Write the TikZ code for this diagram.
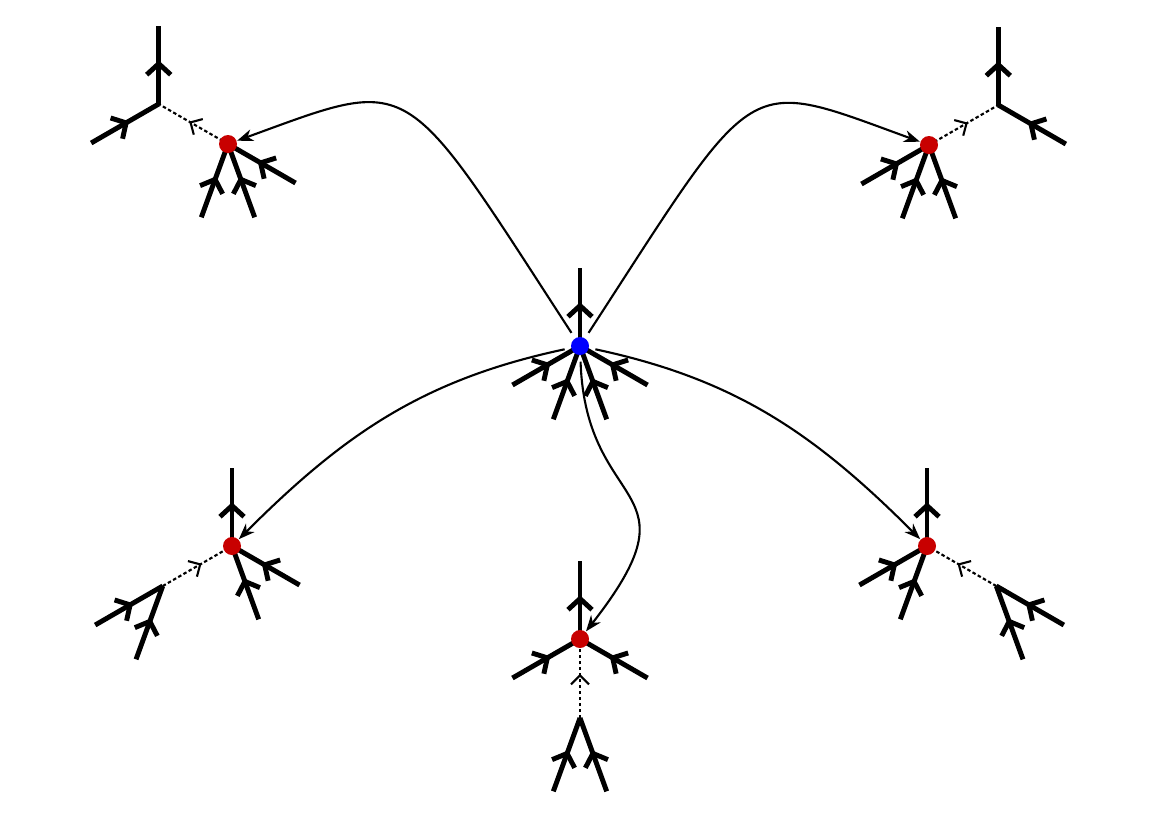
\documentclass[tikz,border=0pt]{standalone}
\usepackage{tikz}
\usetikzlibrary{arrows.meta}
\usetikzlibrary{decorations.markings}
\usepackage{xcolor}
\definecolor{vred}{RGB}{200,0,0}

\begin{document}
\begin{tikzpicture}[
  leg/.style={line width=1.4pt,decoration={markings,mark=at position 0.56 with {\arrow{Straight Barb[length=1.1mm,width=2.4mm]}}},postaction=decorate},
  ghost/.style={line width=0.6pt,dash pattern=on 1pt off 0.7pt,decoration={markings,mark=at position 0.56 with {\arrow{Straight Barb[length=0.9mm,width=1.8mm]}}},postaction=decorate},
  dot/.style={circle,inner sep=0pt,minimum size=1.8mm},
  flow/.style={line width=0.6pt,-{Stealth[length=1.6mm,width=1.2mm,inset=0.5mm]},shorten <=0.6mm}]

\useasboundingbox (0,0) rectangle (11.70,-8.27);

% vertices and their partners
\coordinate (p0) at (5.80,-3.46);
\coordinate (p1) at (2.28,-1.44);
\coordinate (p2) at (9.29,-1.45);
\coordinate (p3) at (2.32,-5.46);
\coordinate (p4) at (5.80,-6.39);
\coordinate (p5) at (9.27,-5.46);
\path (p1) ++(150:0.80) coordinate (q1);
\path (p2) ++(30:0.80) coordinate (q2);
\path (p3) ++(210:0.80) coordinate (q3);
\path (p4) ++(270:0.79) coordinate (q4);
\path (p5) ++(330:0.80) coordinate (q5);

% incoming legs
\foreach \v/\a in {p0/210,p0/250,p0/290,p0/330,p1/250,p1/290,p1/330,q1/210,
  p2/210,p2/250,p2/290,q2/330,p3/290,p3/330,q3/210,q3/250,
  p4/210,p4/330,q4/250,q4/290,p5/210,p5/250,q5/290,q5/330}{
  \path (\v) ++(\a:0.78) coordinate (e);
  \draw[leg] (e) -- (\v);
}
% outgoing legs
\foreach \v in {p0,q1,q2,p3,p4,p5}{
  \path (\v) ++(90:0.78) coordinate (e);
  \draw[leg] (\v) -- (e);
}

\draw[ghost] (p1) -- (q1);
\draw[ghost] (p2) -- (q2);
\draw[ghost] (q3) -- (p3);
\draw[ghost] (q4) -- (p4);
\draw[ghost] (q5) -- (p5);

\node[dot,fill=blue] (v0) at (p0) {};
\node[dot,fill=vred] (v1) at (p1) {};
\node[dot,fill=vred] (v2) at (p2) {};
\node[dot,fill=vred] (v3) at (p3) {};
\node[dot,fill=vred] (v4) at (p4) {};
\node[dot,fill=vred] (v5) at (p5) {};

\draw[flow] (v0) to[out=123,in=20,out distance=3.2cm,in distance=1.9cm] (v1);
\draw[flow] (v0) to[out=57,in=160,out distance=3.2cm,in distance=1.9cm] (v2);
\draw[flow] (v0) to[out=192,in=45] (v3);
\draw[flow] (v0) to[out=-12,in=135] (v5);
\draw[flow] (v0) to[out=-88,in=52,out distance=1.6cm,in distance=1.9cm] (v4);

\end{tikzpicture}
\end{document}
